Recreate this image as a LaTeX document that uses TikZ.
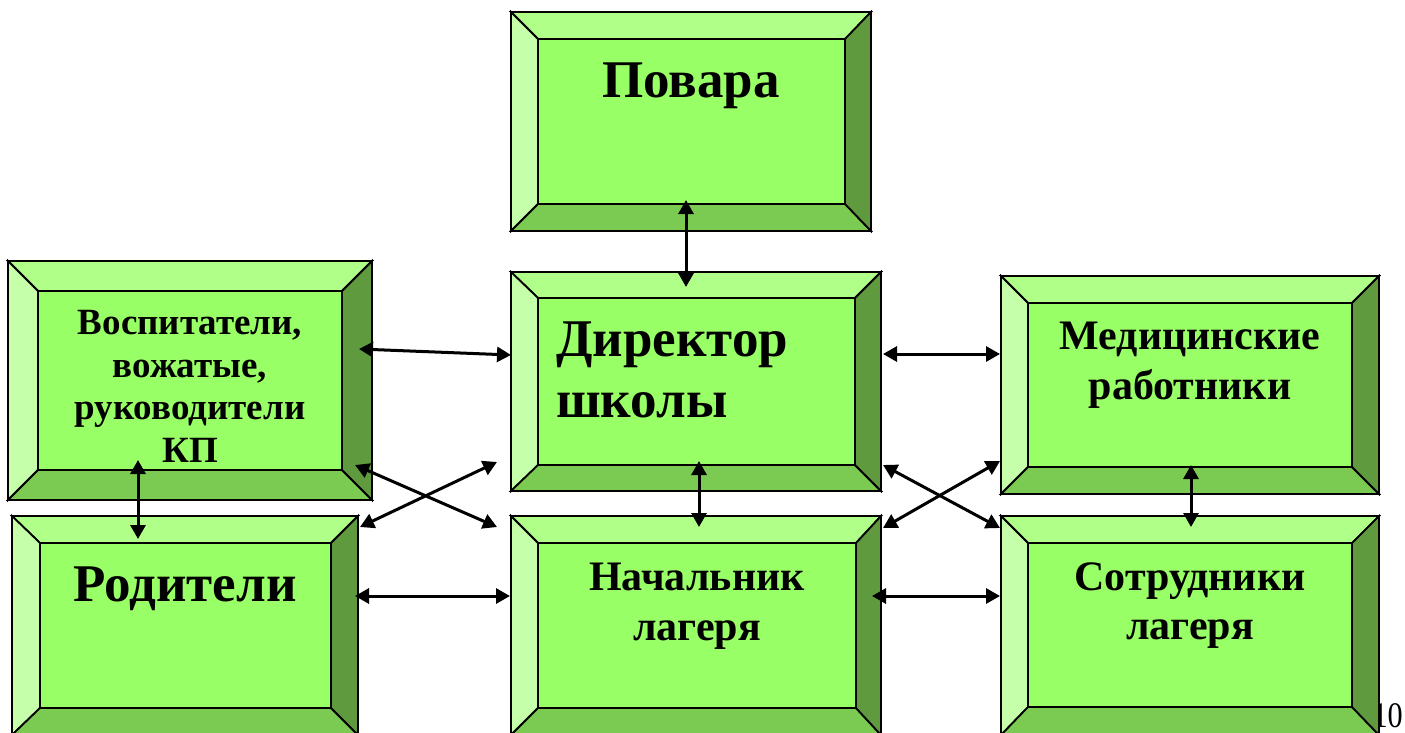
\documentclass[tikz,border=0pt]{standalone}
\usepackage{fontspec}
\setmainfont{Liberation Serif}
\usetikzlibrary{arrows.meta,fit}
\definecolor{facec}{HTML}{99FF66}
\definecolor{topc}{HTML}{AFFF88}
\definecolor{leftc}{HTML}{C5FFAA}
\definecolor{botc}{HTML}{7BCB53}
\definecolor{rightc}{HTML}{5F9A3E}
% #1 name, #2-#5 outer x1 y1 x2 y2, #6-#9 inner x1 y1 x2 y2
\newcommand\bevbox[9]{%
  \filldraw[bev,fill=topc] (#2,#3) -- (#4,#3) -- (#8,#7) -- (#6,#7) -- cycle;
  \filldraw[bev,fill=leftc] (#2,#3) -- (#6,#7) -- (#6,#9) -- (#2,#5) -- cycle;
  \filldraw[bev,fill=botc] (#2,#5) -- (#6,#9) -- (#8,#9) -- (#4,#5) -- cycle;
  \filldraw[bev,fill=rightc] (#4,#3) -- (#4,#5) -- (#8,#9) -- (#8,#7) -- cycle;
  \filldraw[bev,fill=facec] (#6,#7) rectangle (#8,#9);
  \node[fit={(#2,#3)(#4,#5)},inner sep=0pt,draw,line width=1.8pt] (#1) {};
}
\begin{document}
\begin{tikzpicture}[x=1pt,y=-1pt,
  bev/.style={draw=black,line width=1.8pt,line join=miter},
  lbl/.style={inner sep=0pt,font=\bfseries},
  big/.style={lbl,font=\bfseries\fontsize{53}{61}\selectfont},
  mid/.style={lbl,font=\bfseries\fontsize{42}{49.5}\selectfont,align=center},
  sml/.style={lbl,font=\bfseries\fontsize{37}{42.7}\selectfont,align=center},
  link/.style={line width=3pt,{Triangle[length=14pt,width=15pt]}-{Triangle[length=14pt,width=15pt]}}]
\useasboundingbox (0,0) rectangle (1405,733);
\clip (0,0) rectangle (1405,733);
\fill[white] (0,0) rectangle (1405,733);
\node[inner sep=0pt,anchor=base east,font=\fontsize{36}{40}\selectfont] (pg) at (1403,727) {\scalebox{0.84}[1]{10}};
\bevbox{povara}{511}{12}{871}{231}{538}{39}{845}{204}
\bevbox{dir}{511}{272}{881}{491}{538}{298}{855}{465}
\bevbox{vosp}{8}{261}{372}{500}{38}{291}{342}{470}
\bevbox{med}{1001}{276}{1379}{494}{1028}{303}{1352}{467}
\bevbox{rod}{12}{516}{358}{735}{40}{543}{331}{708}
\bevbox{nach}{511}{516}{881}{735}{538}{543}{856}{708}
\bevbox{sotr}{1001}{516}{1379}{735}{1028}{543}{1352}{707}
% texts
\node[big,anchor=north] (tpov) at (691,63) {Повара};
\node[big,anchor=north west,align=left] (tdir) at (556,322) {Директор\\школы};
\node[sml,anchor=north] (tvosp) at (190,310) {Воспитатели,\\вожатые,\\руководители\\КП};
\node[mid,anchor=north] (tmed) at (1190,322) {Медицинские\\работники};
\node[big,anchor=north] (trod) at (185,567) {Родители};
\node[mid,anchor=north] (tnach) at (697,563) {Начальник\\лагеря};
\node[mid,anchor=north] (tsotr) at (1190,562) {Сотрудники\\лагеря};
% arrow ends
\coordinate (a1) at (686,200); \coordinate (b1) at (686,287);
\coordinate (a2) at (359,349); \coordinate (b2) at (511,355);
\coordinate (a3) at (883,354); \coordinate (b3) at (1000,354);
\coordinate (a4) at (138,460); \coordinate (b4) at (138,539);
\coordinate (a5) at (355,465); \coordinate (b5) at (497,527);
\coordinate (a6) at (360,527); \coordinate (b6) at (497,462);
\coordinate (a7) at (699,461); \coordinate (b7) at (699,527);
\coordinate (a8) at (355,596); \coordinate (b8) at (510,596);
\coordinate (a9) at (872,596); \coordinate (b9) at (1000,596);
\coordinate (a10) at (883,465); \coordinate (b10) at (1000,528);
\coordinate (a11) at (883,528); \coordinate (b11) at (1000,461);
\coordinate (a12) at (1191,465); \coordinate (b12) at (1191,527);
\foreach \i in {1,...,12} {\draw[link] (a\i) -- (b\i);}
\end{tikzpicture}
\end{document}
